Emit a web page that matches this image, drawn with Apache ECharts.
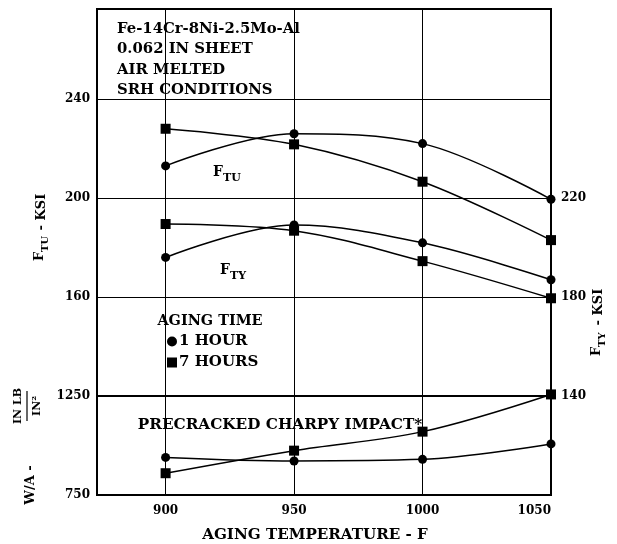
<!DOCTYPE html>
<html>
<head>
<meta charset="utf-8">
<script src="https://cdn.jsdelivr.net/npm/echarts@6/dist/echarts.min.js"></script>
<style>html,body{margin:0;padding:0;background:#fff;}#c{width:617px;height:544px;}</style>
</head>
<body>
<div id="c"></div>
<script>
const temps = [900, 950, 1000, 1050];
const ftu1h = [213, 226, 222, 199.5];
const ftu7h = [228, 221.7, 206.6, 183];
const fty1h = [196, 209.1, 201.9, 187];
const fty7h = [209.5, 206.8, 194.5, 179.5];
const wa1h = [940, 922, 930, 1008];
const wa7h = [860, 974, 1070, 1258];
const tempTicks = [900, 950, 1000, 1050];
const ftuTicks = [160, 200, 240];
const ftyTicks = [140, 180, 220];
const waTicks = [750, 1250];
const notes = ['Fe-14Cr-8Ni-2.5Mo-Al', '0.062 IN SHEET', 'AIR MELTED', 'SRH CONDITIONS'];

const SERIF = '"DejaVu Serif", serif';
const pairs = (xs, ys) => xs.map((x, i) => [x, ys[i]]);
const gridLines = tempTicks.filter(t => t < 1050).map(t => ({ xAxis: t }));
const mk = {
  silent: true, symbol: 'none', label: { show: false },
  lineStyle: { color: '#000', width: 1, type: 'solid' },
  data: gridLines
};
function line(name, xi, yi, data, sym, size, extra) {
  return Object.assign({
    name, type: 'line', xAxisIndex: xi, yAxisIndex: yi, data,
    smooth: 0.35, symbol: sym, symbolSize: size, showSymbol: true,
    itemStyle: { color: '#000' }, lineStyle: { color: '#000', width: 1.5 },
    clip: false, z: 5
  }, extra || {});
}
function txt(t, x, y, size, align, sx) {
  return { type: 'text', x, y, scaleX: sx || 1, style: { text: t, font: 'bold ' + size + 'px ' + SERIF, fill: '#000', align: align || 'left', verticalAlign: 'middle' } };
}
const tickLabel = { color: '#000', fontFamily: SERIF, fontSize: 12, fontWeight: 'bold' };

const chart = echarts.init(document.getElementById('c'), null, { renderer: 'canvas' });
const xMin = 873.3, xMax = 1050;
chart.setOption({
  animation: false,
  backgroundColor: '#fff',
  grid: [
    { left: 97, right: 66, top: 9, height: 387, show: true, borderColor: '#000', borderWidth: 2, backgroundColor: 'transparent' },
    { left: 97, right: 66, top: 396, height: 99, show: true, borderColor: '#000', borderWidth: 2, backgroundColor: 'transparent' }
  ],
  xAxis: [
    { type: 'value', gridIndex: 0, min: xMin, max: xMax, axisLine: { show: false }, axisTick: { show: false }, axisLabel: { show: false }, splitLine: { show: false } },
    { type: 'value', gridIndex: 1, min: xMin, max: xMax, axisLine: { show: false }, axisTick: { show: false }, splitLine: { show: false },
      axisLabel: Object.assign({ customValues: tempTicks, margin: 10, alignMaxLabel: 'right', formatter: v => tempTicks.includes(v) ? String(v) : '' }, tickLabel) }
  ],
  yAxis: [
    { type: 'value', gridIndex: 0, position: 'left', min: 120, max: 276.4, interval: 40,
      axisLine: { show: false }, axisTick: { show: false },
      splitLine: { show: true, lineStyle: { color: '#000', width: 1 } },
      axisLabel: Object.assign({ margin: 7, formatter: v => ftuTicks.includes(v) ? String(v) : '' }, tickLabel) },
    { type: 'value', gridIndex: 0, position: 'right', min: 140, max: 296.4, interval: 40,
      axisLine: { show: false }, axisTick: { show: false }, splitLine: { show: false },
      axisLabel: Object.assign({ margin: 10, formatter: v => ftyTicks.includes(v) ? String(v) : '' }, tickLabel) },
    { type: 'value', gridIndex: 1, position: 'left', min: 750, max: 1250, interval: 500,
      axisLine: { show: false }, axisTick: { show: false }, splitLine: { show: false },
      axisLabel: Object.assign({ margin: 7, formatter: v => waTicks.includes(v) ? String(v) : '' }, tickLabel) }
  ],
  legend: {
    left: 162, top: 329, orient: 'vertical', selectedMode: false, itemGap: 6,
    itemWidth: 10, itemHeight: 10,
    textStyle: { color: '#000', fontFamily: SERIF, fontSize: 15, fontWeight: 'bold', padding: [0, 0, 0, -3] },
    data: [{ name: '1 HOUR', icon: 'circle' }, { name: '7 HOURS', icon: 'rect' }]
  },
  series: [
    line('1 HOUR', 0, 0, pairs(temps, ftu1h), 'circle', 9, { markLine: mk }),
    line('7 HOURS', 0, 0, pairs(temps, ftu7h), 'rect', 10),
    line('1 HOUR', 0, 1, pairs(temps, fty1h), 'circle', 9),
    line('7 HOURS', 0, 1, pairs(temps, fty7h), 'rect', 10),
    line('1 HOUR', 1, 2, pairs(temps, wa1h), 'circle', 9, { markLine: mk }),
    line('7 HOURS', 1, 2, pairs(temps, wa7h), 'rect', 10)
  ],
  graphic: [].concat(
    notes.map((t, i) => txt(t, 117, [29, 49, 70, 90][i], 14, 'left', 1.06)),
    [
      txt('F', 213, 172, 14),
      txt('TU', 223, 178, 11),
      txt('F', 220, 270, 14),
      txt('TY', 230, 276, 11),
      txt('AGING TIME', 210, 321, 14, 'center', 1.03),
      txt('PRECRACKED CHARPY IMPACT*', 280, 425, 14, 'center', 1.09),
      txt('AGING TEMPERATURE - F', 315, 535, 14, 'center', 1.08),
      { type: 'group', x: 42, y: 223, rotation: Math.PI / 2, children: [
        txt('F', -38, -2, 13),
        txt('TU', -29, 3, 10),
        txt(' - KSI', -12, 0, 13)
      ] },
      { type: 'group', x: 599, y: 319, rotation: Math.PI / 2, children: [
        txt('F', -37, -2, 13),
        txt('TY', -28, 3, 10),
        txt(' - KSI', -11, 0, 13)
      ] },
      { type: 'group', x: 27, y: 441, rotation: Math.PI / 2, children: [
        txt('W/A -', -44, 4, 13, 'center'),
        txt('IN LB', 35, -9, 11, 'center'),
        txt('IN²', 35, 10, 11, 'center'),
        { type: 'line', shape: { x1: 20, y1: 0, x2: 50, y2: 0 }, style: { stroke: '#000', lineWidth: 1.2 } }
      ] }
    ]
  )
});
</script>
</body>
</html>
